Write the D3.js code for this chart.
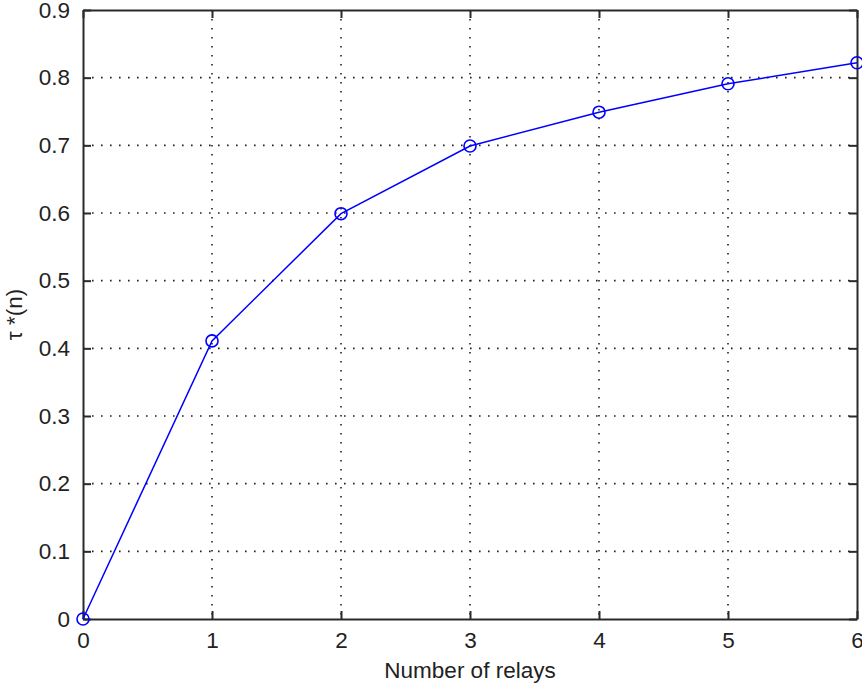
<!DOCTYPE html>
<html>
<head>
<meta charset="utf-8">
<script src="https://cdn.jsdelivr.net/npm/d3@7"></script>
<style>
  body { margin: 0; background: #fff; }
  text { font-family: "Liberation Sans", Arial, sans-serif; fill: #222; }
</style>
</head>
<body>
<div class="chart"></div>
<script>
// data
var relays = [0, 1, 2, 3, 4, 5, 6];
var tau = [0, 0.411, 0.599, 0.699, 0.749, 0.791, 0.822];
var xTicks = [0, 1, 2, 3, 4, 5, 6];
var yTicks = [0, 0.1, 0.2, 0.3, 0.4, 0.5, 0.6, 0.7, 0.8, 0.9];

var margin = {top: 10, right: 5, bottom: 65, left: 83},
  W = 862, H = 684,
  width = W - margin.left - margin.right,
  height = H - margin.top - margin.bottom;

var svg = d3.select(".chart").append("svg")
  .attr("width", W).attr("height", H)
  .append("g")
    .attr("transform", "translate(" + margin.left + "," + margin.top + ")");

var x = d3.scaleLinear().domain([0, 6]).range([0, width]);
var y = d3.scaleLinear().domain([0, 0.9]).range([height, 0]);

// dotted grid
svg.append("g").selectAll("line.gx")
  .data(xTicks.slice(1, -1)).enter().append("line")
    .attr("x1", d => x(d)).attr("x2", d => x(d))
    .attr("y1", 0).attr("y2", height)
    .style("stroke", "#222").style("stroke-width", 1.6)
    .style("stroke-dasharray", "1.6,7.4");
svg.append("g").selectAll("line.gy")
  .data(yTicks.slice(1, -1)).enter().append("line")
    .attr("x1", 0).attr("x2", width)
    .attr("y1", d => y(d)).attr("y2", d => y(d))
    .style("stroke", "#222").style("stroke-width", 1.6)
    .style("stroke-dasharray", "1.6,7.4");

// axes, ticks pointing inward on all four sides
function fmt(d) { return d3.format("~g")(d); }
var xAxis = svg.append("g").attr("transform", "translate(0," + height + ")")
  .call(d3.axisBottom(x).tickValues(xTicks).tickFormat(fmt).tickSizeInner(-8).tickSizeOuter(0).tickPadding(13));
var xTop = svg.append("g")
  .call(d3.axisTop(x).tickValues(xTicks).tickFormat("").tickSizeInner(-8).tickSizeOuter(0));
var yAxis = svg.append("g")
  .call(d3.axisLeft(y).tickValues(yTicks).tickFormat(fmt).tickSizeInner(-8).tickSizeOuter(0).tickPadding(13));
var yRight = svg.append("g").attr("transform", "translate(" + width + ",0)")
  .call(d3.axisRight(y).tickValues(yTicks).tickFormat("").tickSizeInner(-8).tickSizeOuter(0));

[xAxis, xTop, yAxis, yRight].forEach(function(a) {
  a.select(".domain").style("stroke", "#2a2a2a").style("stroke-width", 2);
  a.selectAll(".tick line").style("stroke", "#2a2a2a").style("stroke-width", 2);
  a.selectAll("text").style("font-size", "22.5px").style("font-family", "Liberation Sans, Arial, sans-serif").style("fill", "#222");
});

// line + circle markers
var line = d3.line().x((d, i) => x(relays[i])).y(d => y(d));
svg.append("path")
  .datum(tau)
  .attr("d", line)
  .style("fill", "none").style("stroke", "#0000ff").style("stroke-width", 1.5);

svg.selectAll("circle.pt")
  .data(tau).enter().append("circle")
    .attr("cx", (d, i) => x(relays[i]))
    .attr("cy", d => y(d))
    .attr("r", 6)
    .style("fill", "none").style("stroke", "#0000ff").style("stroke-width", 1.6);

// labels
svg.append("text")
  .attr("x", width / 2)
  .attr("y", height + 59)
  .attr("text-anchor", "middle")
  .style("font-size", "22.5px")
  .text("Number of relays");

svg.append("text")
  .attr("transform", "translate(" + (-61) + "," + (height / 2) + ") rotate(-90)")
  .attr("text-anchor", "middle")
  .style("font-size", "22.5px")
  .text("τ *(n)");
</script>
</body>
</html>
